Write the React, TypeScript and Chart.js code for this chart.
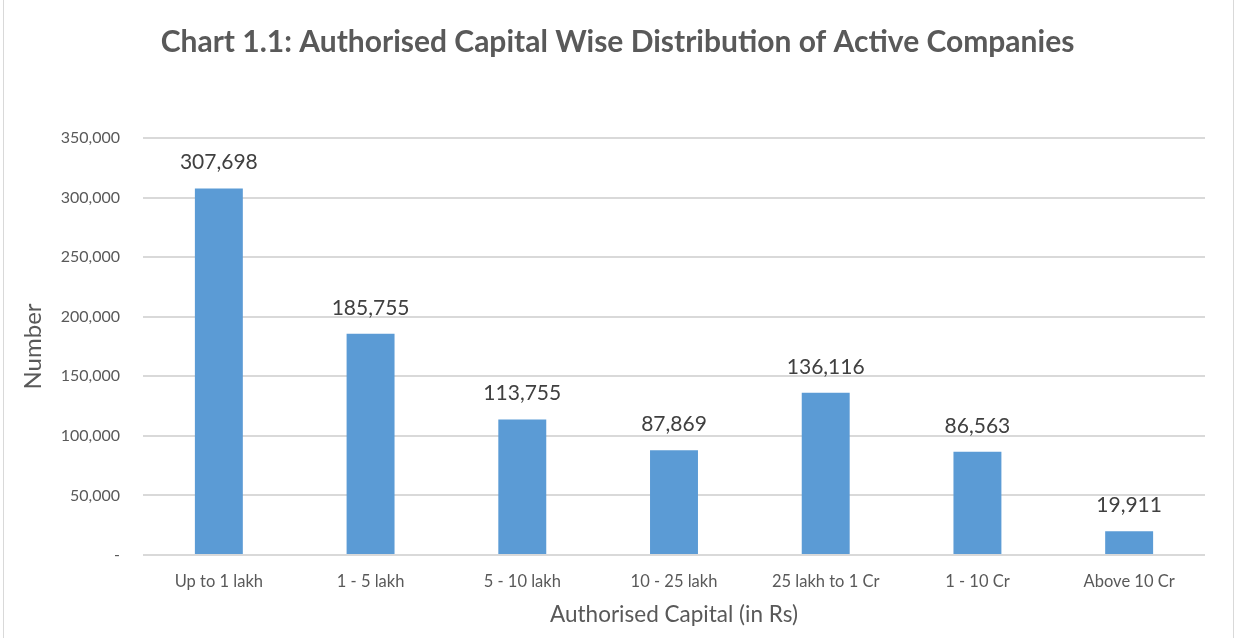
import React, { useEffect, useRef } from "react";
import { Chart, registerables } from "chart.js";

Chart.register(...registerables);

const categories = ["Up to 1 lakh", "1 - 5 lakh", "5 - 10 lakh", "10 - 25 lakh", "25 lakh to 1 Cr", "1 - 10 Cr", "Above 10 Cr"];
const companies = [307698, 185755, 113755, 87869, 136116, 86563, 19911];
const yTicks = [0, 50000, 100000, 150000, 200000, 250000, 300000, 350000];
const titleText = "Chart 1.1: Authorised Capital Wise Distribution of Active Companies";
const xTitle = "Authorised Capital (in Rs)";
const yTitle = "Number";

const FONT = "Lato, 'Open Sans', sans-serif";

const dataLabels = {
  id: "dataLabels",
  afterDatasetsDraw(chart: any) {
    const ctx = chart.ctx;
    const meta = chart.getDatasetMeta(0);
    ctx.save();
    ctx.font = `21px ${FONT}`;
    ctx.fillStyle = "#404040";
    ctx.textAlign = "center";
    ctx.textBaseline = "alphabetic";
    meta.data.forEach((bar: any, i: number) => {
      ctx.fillText(companies[i].toLocaleString("en-US"), bar.x, bar.y - 19);
    });
    ctx.restore();
  },
};

export default function App() {
  const ref = useRef<HTMLCanvasElement>(null);
  useEffect(() => {
    document.body.style.margin = "0";
    const chart = new Chart(ref.current!, {
      type: "bar",
      data: {
        labels: categories,
        datasets: [
          {
            data: companies,
            backgroundColor: "#5b9bd5",
            categoryPercentage: 1,
            barPercentage: 0.316,
          },
        ],
      },
      options: {
        responsive: false,
        animation: false,
        layout: { padding: 0 },
        plugins: {
          legend: { display: false },
          tooltip: { enabled: false },
          title: {
            display: true,
            text: titleText,
            color: "#595959",
            font: { family: FONT, size: 30, weight: "bold" },
            padding: { top: 24, bottom: 78 },
          },
        },
        scales: {
          x: {
            grid: { display: false },
            border: { display: false },
            ticks: { color: "#595959", font: { family: FONT, size: 16.5 }, padding: 9 },
            title: {
              display: true,
              text: xTitle,
              color: "#595959",
              font: { family: FONT, size: 22.5 },
              padding: { top: 0, bottom: 10 },
            },
            afterFit: (s: any) => {
              s.height = 83;
            },
          },
          y: {
            min: 0,
            max: 350000,
            afterBuildTicks: (s: any) => {
              s.ticks = yTicks.map((v) => ({ value: v }));
            },
            grid: { color: "#d9d9d9", lineWidth: 2, drawTicks: false },
            border: { display: false },
            ticks: {
              color: "#595959",
              font: { family: FONT, size: 16 },
              padding: 23,
              callback: (v: any) => (Number(v) === 0 ? "-" : Number(v).toLocaleString("en-US")),
            },
            title: {
              display: true,
              text: yTitle,
              color: "#595959",
              font: { family: FONT, size: 24 },
              padding: { top: 19, bottom: 0 },
            },
            afterFit: (s: any) => {
              s.width = 143;
            },
          },
          yRight: {
            position: "right",
            display: true,
            grid: { display: false },
            border: { display: false },
            ticks: { display: false },
            afterFit: (s: any) => {
              s.width = 30;
            },
          },
        },
      },
      plugins: [dataLabels],
    });
    return () => chart.destroy();
  }, []);
  return (
    <div style={{ position: "relative", width: 1235, height: 638 }}>
      <canvas ref={ref} width={1235} height={638} style={{ display: "block" }} />
      <div style={{ position: "absolute", left: 3, top: 0, width: 1, height: 638, background: "#d9d9d9" }} />
      <div style={{ position: "absolute", left: 1233, top: 0, width: 1, height: 638, background: "#d9d9d9" }} />
    </div>
  );
}
